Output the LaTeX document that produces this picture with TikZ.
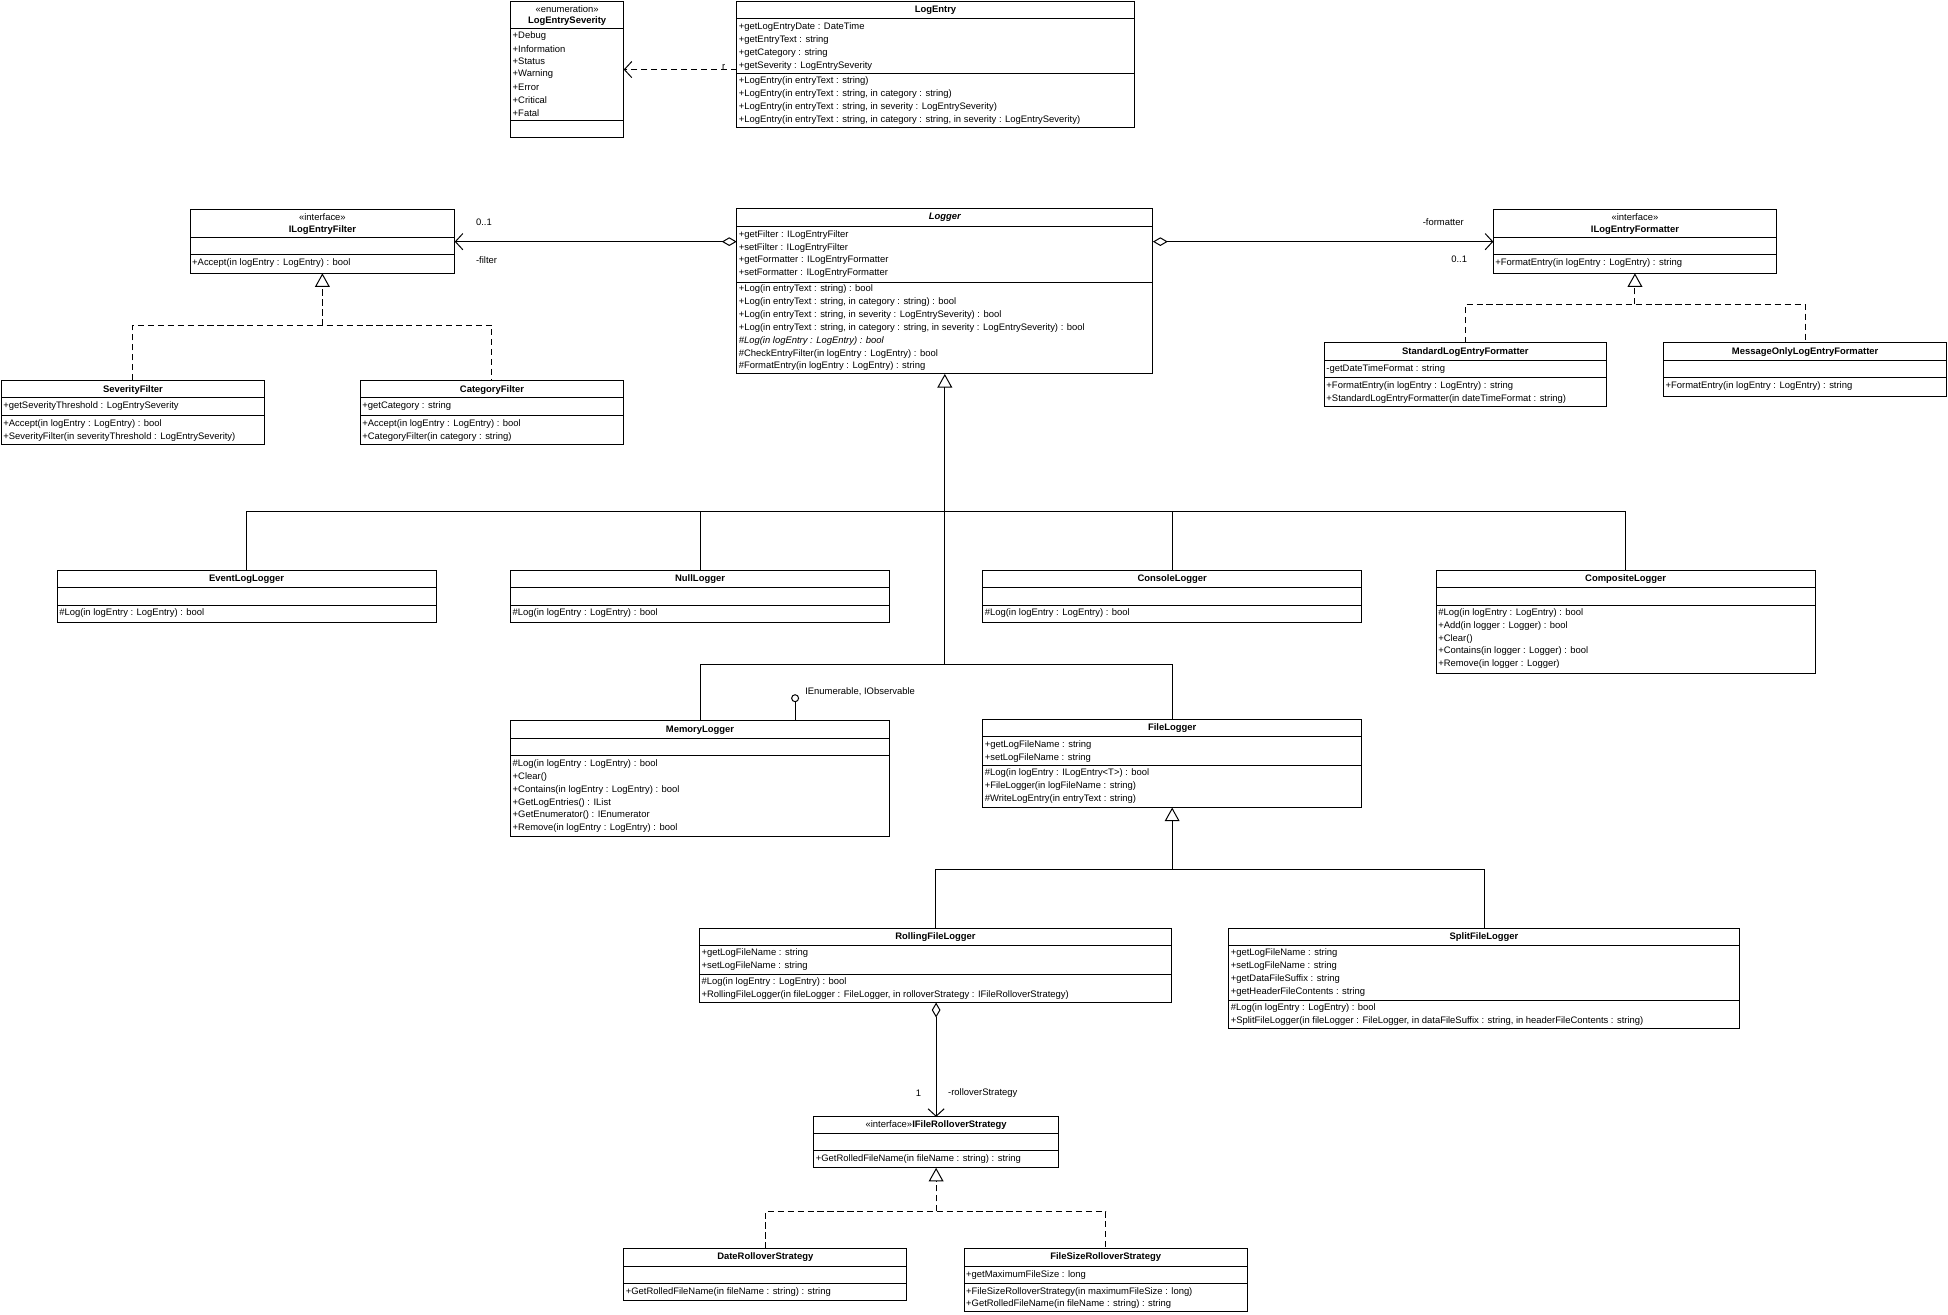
\documentclass[tikz,border=0pt]{standalone}
\usepackage{fontspec}
\setmainfont{Liberation Sans}
\usetikzlibrary{arrows.meta}
\newcommand\cls[5]{\node[box,minimum width=#4pt,minimum height=#5pt] (#1) at (#2,#3) {};}
\newcommand\mline[3]{\node[txt] at (#1,#2) {#3};}
\newcommand\ctr[3]{\node[ttl] at (#1,#2) {#3};}
\newcommand\hsep[3]{\draw[line width=0.7pt] (#1,#3) -- (#2,#3);}
\begin{document}
\begin{tikzpicture}[x=1pt,y=-1pt,
  box/.style={draw,line width=0.8pt,anchor=north west,inner sep=0pt,outer sep=0pt},
  txt/.style={anchor=west,inner sep=0pt,font=\fontsize{7.6}{9}\selectfont},
  ttl/.style={anchor=center,inner sep=0pt,font=\fontsize{7.6}{9}\selectfont},
  agg/.style={line width=0.8pt,{Diamond[open,length=12pt,width=7pt]}-{Straight Barb[length=6pt,width=13pt]}},
  dep/.style={line width=0.8pt,dash pattern=on 5pt off 3pt,-{Straight Barb[length=6pt,width=13pt]}},
  inh/.style={line width=0.8pt,-{Triangle[open,length=11pt,width=12pt]}},
  real/.style={line width=0.8pt,dash pattern=on 5pt off 3pt},
  realarr/.style={line width=0.8pt,dash pattern=on 5pt off 3pt,-{Triangle[open,length=11pt,width=12pt]}}]
\useasboundingbox[fill=white] (0,0) rectangle (1568,1058);
% LogEntrySeverity
\cls{sev}{411}{1}{91}{110}
\ctr{456.5}{7}{«enumeration»}
\ctr{456.5}{17}{\bfseries LogEntrySeverity}
\hsep{411}{502}{23}
\mline{412.5}{29}{+Debug}\mline{412.5}{39.3}{+Information}\mline{412.5}{49.6}{+Status}
\mline{412.5}{60}{+Warning}\mline{412.5}{70.3}{+Error}\mline{412.5}{80.6}{+Critical}\mline{412.5}{91}{+Fatal}
\hsep{411}{502}{97}
% LogEntry
\cls{logentry}{593}{1}{320}{102}
\ctr{753}{8}{\bfseries LogEntry}
\hsep{593}{913}{15}
\mline{594.5}{22}{+getLogEntryDate : DateTime}
\mline{594.5}{32}{+getEntryText : string}
\mline{594.5}{42.5}{+getCategory : string}
\mline{594.5}{53}{+getSeverity : LogEntrySeverity}
\hsep{593}{913}{59}
\mline{594.5}{65}{+LogEntry(in entryText : string)}
\mline{594.5}{75.5}{+LogEntry(in entryText : string, in category : string)}
\mline{594.5}{86}{+LogEntry(in entryText : string, in severity : LogEntrySeverity)}
\mline{594.5}{96.5}{+LogEntry(in entryText : string, in category : string, in severity : LogEntrySeverity)}
\draw[dep] (sev.east -| logentry.west) -- (sev.east);
\node[txt] at (581,54) {r};
% ILogEntryFilter
\cls{filter}{153}{169}{213}{51}
\ctr{259.5}{175}{«interface»}
\ctr{259.5}{185}{\bfseries ILogEntryFilter}
\hsep{153}{366}{191}\hsep{153}{366}{205}
\mline{154.5}{212}{+Accept(in logEntry : LogEntry) : bool}
% Logger
\cls{logger}{593}{168}{335}{133}
\ctr{760.5}{175}{\bfseries\itshape Logger}
\hsep{593}{928}{182}
\mline{594.5}{189}{+getFilter : ILogEntryFilter}
\mline{594.5}{199.3}{+setFilter : ILogEntryFilter}
\mline{594.5}{209.6}{+getFormatter : ILogEntryFormatter}
\mline{594.5}{220}{+setFormatter : ILogEntryFormatter}
\hsep{593}{928}{227}
\mline{594.5}{233}{+Log(in entryText : string) : bool}
\mline{594.5}{243.3}{+Log(in entryText : string, in category : string) : bool}
\mline{594.5}{253.6}{+Log(in entryText : string, in severity : LogEntrySeverity) : bool}
\mline{594.5}{264}{+Log(in entryText : string, in category : string, in severity : LogEntrySeverity) : bool}
\mline{594.5}{274.3}{\itshape \#Log(in logEntry : LogEntry) : bool}
\mline{594.5}{284.6}{\#CheckEntryFilter(in logEntry : LogEntry) : bool}
\mline{594.5}{295}{\#FormatEntry(in logEntry : LogEntry) : string}
% ILogEntryFormatter
\cls{formatter}{1202}{169}{228}{51}
\ctr{1316}{175}{«interface»}
\ctr{1316}{185}{\bfseries ILogEntryFormatter}
\hsep{1202}{1430}{191}\hsep{1202}{1430}{205}
\mline{1203.5}{212}{+FormatEntry(in logEntry : LogEntry) : string}
% associations
\draw[agg] (filter.east -| logger.west) -- (filter.east);
\node[txt] at (383,179) {0..1};
\node[txt] at (383,209) {-filter};
\draw[agg] (formatter.west -| logger.east) -- (formatter.west);
\node[txt] at (1145,179) {-formatter};
\node[txt] at (1168,209) {0..1};
% SeverityFilter
\cls{sevfilter}{1}{306}{212}{52}
\ctr{107}{314}{\bfseries SeverityFilter}
\hsep{1}{213}{320}
\mline{2.5}{327}{+getSeverityThreshold : LogEntrySeverity}
\hsep{1}{213}{334}
\mline{2.5}{341}{+Accept(in logEntry : LogEntry) : bool}
\mline{2.5}{351.5}{+SeverityFilter(in severityThreshold : LogEntrySeverity)}
% CategoryFilter
\cls{catfilter}{290}{306}{212}{52}
\ctr{396}{314}{\bfseries CategoryFilter}
\hsep{290}{502}{320}
\mline{291.5}{327}{+getCategory : string}
\hsep{290}{502}{334}
\mline{291.5}{341}{+Accept(in logEntry : LogEntry) : bool}
\mline{291.5}{351.5}{+CategoryFilter(in category : string)}
\coordinate (fj) at (259.5,262);
\draw[real] (sevfilter.north) |- (fj) -| (catfilter.north);
\draw[realarr] (fj) -- (filter.south);
% Formatters
\cls{stdfmt}{1066}{276}{227}{51}
\ctr{1179.5}{283}{\bfseries StandardLogEntryFormatter}
\hsep{1066}{1293}{290}
\mline{1067.5}{297}{-getDateTimeFormat : string}
\hsep{1066}{1293}{304}
\mline{1067.5}{311}{+FormatEntry(in logEntry : LogEntry) : string}
\mline{1067.5}{321}{+StandardLogEntryFormatter(in dateTimeFormat : string)}
\cls{msgfmt}{1339}{276}{228}{43}
\ctr{1453}{283}{\bfseries MessageOnlyLogEntryFormatter}
\hsep{1339}{1567}{290}\hsep{1339}{1567}{304}
\mline{1340.5}{311}{+FormatEntry(in logEntry : LogEntry) : string}
\coordinate (mj) at (1316,245);
\draw[real] (stdfmt.north) |- (mj) -| (msgfmt.north);
\draw[realarr] (mj) -- (formatter.south);
% Logger subclasses
\cls{eventlog}{46}{459}{305}{42}
\ctr{198.5}{466}{\bfseries EventLogLogger}
\hsep{46}{351}{473}\hsep{46}{351}{487}
\mline{47.5}{493.5}{\#Log(in logEntry : LogEntry) : bool}
\cls{nulllog}{411}{459}{305}{42}
\ctr{563.5}{466}{\bfseries NullLogger}
\hsep{411}{716}{473}\hsep{411}{716}{487}
\mline{412.5}{493.5}{\#Log(in logEntry : LogEntry) : bool}
\cls{consolelog}{791}{459}{305}{42}
\ctr{943.5}{466}{\bfseries ConsoleLogger}
\hsep{791}{1096}{473}\hsep{791}{1096}{487}
\mline{792.5}{493.5}{\#Log(in logEntry : LogEntry) : bool}
\cls{complog}{1156}{459}{305}{83}
\ctr{1308.5}{466}{\bfseries CompositeLogger}
\hsep{1156}{1461}{473}\hsep{1156}{1461}{487}
\mline{1157.5}{493.5}{\#Log(in logEntry : LogEntry) : bool}
\mline{1157.5}{503.8}{+Add(in logger : Logger) : bool}
\mline{1157.5}{514}{+Clear()}
\mline{1157.5}{524.3}{+Contains(in logger : Logger) : bool}
\mline{1157.5}{534.6}{+Remove(in logger : Logger)}
% MemoryLogger
\cls{memlog}{411}{580}{305}{93}
\ctr{563.5}{587.5}{\bfseries MemoryLogger}
\hsep{411}{716}{594}\hsep{411}{716}{608}
\mline{412.5}{615}{\#Log(in logEntry : LogEntry) : bool}
\mline{412.5}{625.3}{+Clear()}
\mline{412.5}{635.6}{+Contains(in logEntry : LogEntry) : bool}
\mline{412.5}{646}{+GetLogEntries() : IList}
\mline{412.5}{656.3}{+GetEnumerator() : IEnumerator}
\mline{412.5}{666.6}{+Remove(in logEntry : LogEntry) : bool}
\coordinate (lolli) at (640,562);
\draw[line width=0.8pt] (lolli) circle (2.8);
\draw[line width=0.8pt] (640,564.8) -- (640,580);
\node[txt] at (648,557) {IEnumerable, IObservable};
% FileLogger
\cls{filelog}{791}{579}{305}{71}
\ctr{943.5}{586}{\bfseries FileLogger}
\hsep{791}{1096}{593}
\mline{792.5}{600}{+getLogFileName : string}
\mline{792.5}{610.3}{+setLogFileName : string}
\hsep{791}{1096}{616}
\mline{792.5}{622.5}{\#Log(in logEntry : ILogEntry<T>) : bool}
\mline{792.5}{633}{+FileLogger(in logFileName : string)}
\mline{792.5}{643.3}{\#WriteLogEntry(in entryText : string)}
% inheritance tree from Logger
\coordinate (lj1) at (760.5,412);
\coordinate (lj2) at (760.5,535);
\draw[line width=0.8pt] (eventlog.north) |- (lj1) -| (complog.north);
\draw[line width=0.8pt] (nulllog.north) |- (lj1) -| (consolelog.north);
\draw[line width=0.8pt] (memlog.north -| 563.5,0) |- (lj2) -| (filelog.north);
\draw[line width=0.8pt] (lj2) -- (lj1);
\draw[inh] (lj1) -- (logger.south);
% RollingFileLogger
\cls{rolllog}{563}{747}{380}{60}
\ctr{753}{754}{\bfseries RollingFileLogger}
\hsep{563}{943}{761}
\mline{564.5}{767.5}{+getLogFileName : string}
\mline{564.5}{777.8}{+setLogFileName : string}
\hsep{563}{943}{784}
\mline{564.5}{790.5}{\#Log(in logEntry : LogEntry) : bool}
\mline{564.5}{800.8}{+RollingFileLogger(in fileLogger : FileLogger, in rolloverStrategy : IFileRolloverStrategy)}
% SplitFileLogger
\cls{splitlog}{989}{747}{411}{81}
\ctr{1194.5}{754}{\bfseries SplitFileLogger}
\hsep{989}{1400}{761}
\mline{990.5}{767.5}{+getLogFileName : string}
\mline{990.5}{777.8}{+setLogFileName : string}
\mline{990.5}{788}{+getDataFileSuffix : string}
\mline{990.5}{798.3}{+getHeaderFileContents : string}
\hsep{989}{1400}{805}
\mline{990.5}{811.5}{\#Log(in logEntry : LogEntry) : bool}
\mline{990.5}{821.8}{+SplitFileLogger(in fileLogger : FileLogger, in dataFileSuffix : string, in headerFileContents : string)}
\coordinate (fj2) at (943.5,700);
\draw[line width=0.8pt] (rolllog.north -| 753,0) |- (fj2) -| (splitlog.north);
\draw[inh] (fj2) -- (filelog.south);
% IFileRolloverStrategy
\cls{strategy}{655}{899}{197}{41}
\ctr{753.5}{905.5}{«interface»\textbf{IFileRolloverStrategy}}
\hsep{655}{852}{912}\hsep{655}{852}{926}
\mline{656.5}{933}{+GetRolledFileName(in fileName : string) : string}
\draw[agg] (rolllog.south -| strategy.north) -- (strategy.north);
\node[txt] at (737,880) {1};
\node[txt] at (763,880) {-rolloverStrategy};
% strategies
\cls{datestrat}{502}{1005}{228}{42}
\ctr{616}{1012}{\bfseries DateRolloverStrategy}
\hsep{502}{730}{1019}\hsep{502}{730}{1033}
\mline{503.5}{1040}{+GetRolledFileName(in fileName : string) : string}
\cls{sizestrat}{776}{1005}{228}{51}
\ctr{890}{1012}{\bfseries FileSizeRolloverStrategy}
\hsep{776}{1004}{1019}
\mline{777.5}{1026}{+getMaximumFileSize : long}
\hsep{776}{1004}{1033}
\mline{777.5}{1040}{+FileSizeRolloverStrategy(in maximumFileSize : long)}
\mline{777.5}{1050}{+GetRolledFileName(in fileName : string) : string}
\coordinate (sj) at (753.5,975);
\draw[real] (datestrat.north) |- (sj) -| (sizestrat.north);
\draw[realarr] (sj) -- (strategy.south);
\end{tikzpicture}
\end{document}
